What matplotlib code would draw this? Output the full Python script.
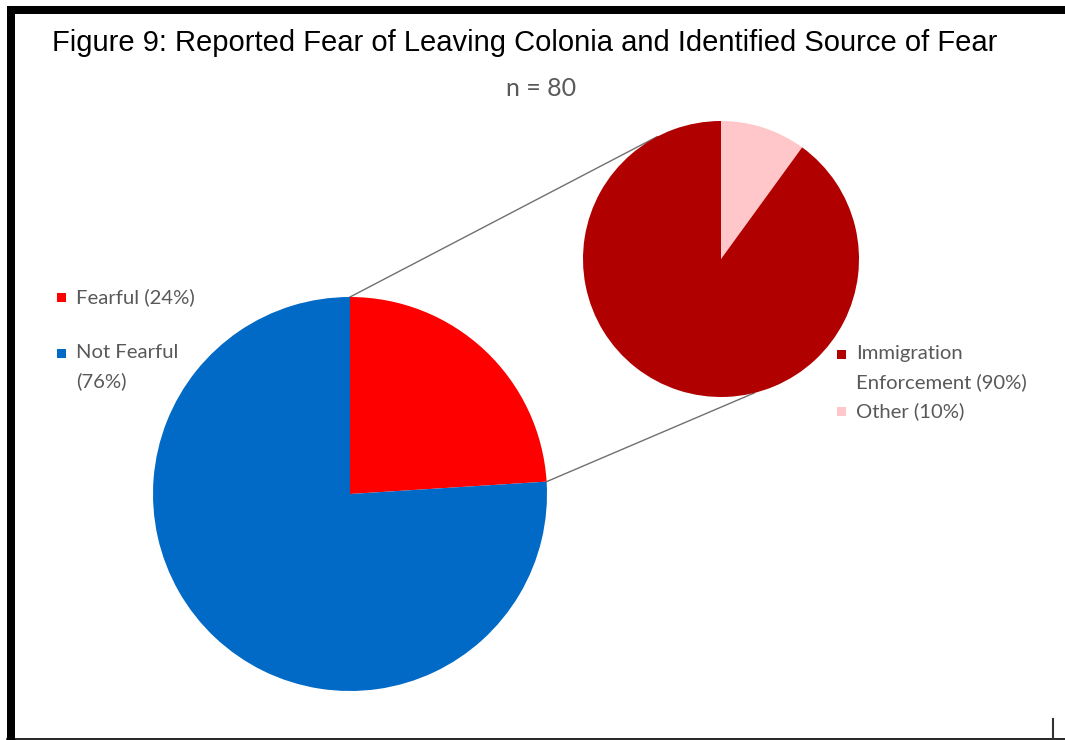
import numpy as np
import matplotlib
matplotlib.use("Agg")
import matplotlib.pyplot as plt
from matplotlib.patches import Rectangle
from matplotlib.lines import Line2D

# --- data -------------------------------------------------------------
title = "Figure 9: Reported Fear of Leaving Colonia and Identified Source of Fear"
subtitle = "n = 80"

main_labels = ["Fearful (24%)", "Not Fearful\n(76%)"]
main_values = [24, 76]
main_colors = ["#FF0000", "#006AC6"]

sub_labels = ["Immigration\nEnforcement (90%)", "Other (10%)"]
sub_values = [90, 10]
sub_colors = ["#B00000", "#FFC7C9"]

# --- canvas in pixel units (y measured downward from the top) --------
W, H = 1065, 740
fig = plt.figure(figsize=(W / 100, H / 100), dpi=100)
ax = fig.add_axes([0, 0, 1, 1])


def Y(y):
    return H - y


label_font = ["Lato", "DejaVu Sans"]
gray = "#595959"

# main pie
c1 = (350, Y(494))
r1 = 197
ax.pie(main_values, colors=main_colors, startangle=90, counterclock=False,
       center=c1, radius=r1, wedgeprops=dict(linewidth=0))

# secondary pie, ordered so "Other" starts at 12 o'clock
c2 = (721, Y(259))
r2 = 138
ax.pie(sub_values[::-1], colors=sub_colors[::-1], startangle=90,
       counterclock=False, center=c2, radius=r2, wedgeprops=dict(linewidth=0))

# connector lines from the edges of the "Fearful" wedge to the second pie
fear_start = np.deg2rad(90)
fear_end = np.deg2rad(90 - 360 * main_values[0] / sum(main_values))
p_top = (c1[0] + r1 * np.cos(fear_start), c1[1] + r1 * np.sin(fear_start))
p_bot = (c1[0] + r1 * np.cos(fear_end), c1[1] + r1 * np.sin(fear_end))
q_top_ang, q_bot_ang = np.deg2rad(117.5), np.deg2rad(-76)
q_top = (c2[0] + r2 * np.cos(q_top_ang), c2[1] + r2 * np.sin(q_top_ang))
q_bot = (c2[0] + r2 * np.cos(q_bot_ang), c2[1] + r2 * np.sin(q_bot_ang))
for p, q in [(p_top, q_top), (p_bot, q_bot)]:
    ax.add_line(Line2D([p[0], q[0]], [p[1], q[1]], color="#707070",
                       lw=1.0, zorder=0.5))

# titles
ax.text(52, Y(51), title, fontsize=21, family=["Liberation Sans", "DejaVu Sans"],
        color="black", ha="left", va="baseline")
ax.text(541, Y(89), subtitle, fontsize=18, family=label_font, color=gray,
        ha="center", va="center")


def legend_entry(x, y, color, label, line_gap=28):
    s = 9
    ax.add_patch(Rectangle((x, Y(y) - s / 2), s, s, facecolor=color,
                           edgecolor="none", zorder=3))
    for i, line in enumerate(label.split("\n")):
        ax.text(x + 19, Y(y + i * line_gap), line, fontsize=14.6,
                family=label_font, color=gray, ha="left", va="center")


# left legend (main pie)
legend_entry(57, 297, main_colors[0], main_labels[0])
legend_entry(57, 353, main_colors[1], main_labels[1])

# right legend (secondary pie)
legend_entry(837, 354, sub_colors[0], sub_labels[0])
legend_entry(837, 411, sub_colors[1], sub_labels[1])

# page frame
ax.add_patch(Rectangle((7, Y(14)), W - 7, 8, facecolor="black", edgecolor="none"))
ax.add_patch(Rectangle((7, Y(740)), 8, 740 - 6, facecolor="black", edgecolor="none"))
ax.add_line(Line2D([7, W], [Y(739), Y(739)], color="black", lw=1.2))
ax.add_line(Line2D([1053, 1053], [Y(719), Y(740)], color="#333333", lw=1.5))

ax.set_xlim(0, W)
ax.set_ylim(0, H)
ax.set_aspect("equal")
ax.axis("off")

fig.savefig("out.png", dpi=100, facecolor="white")
